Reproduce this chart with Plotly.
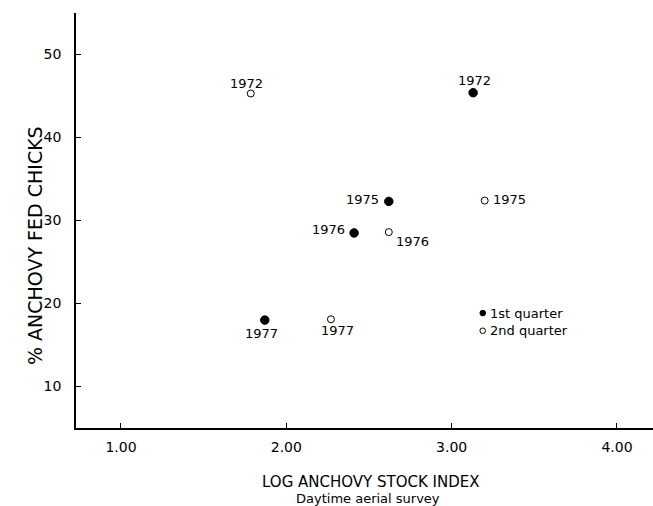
import plotly.graph_objects as go

# Percentage of chicks fed anchovy vs. log anchovy stock index
q1_years = ["1972", "1975", "1976", "1977"]
q1_x = [3.13, 2.62, 2.41, 1.87]
q1_y = [45.4, 32.3, 28.5, 18.0]

q2_years = ["1972", "1975", "1976", "1977"]
q2_x = [1.785, 3.20, 2.62, 2.27]
q2_y = [45.3, 32.4, 28.6, 18.1]

x_tickvals = [1, 2, 3, 4]
x_ticktext = ["1.00", "2.00", "3.00", "4.00"]
y_tickvals = [10, 20, 30, 40, 50]
y_ticktext = ["10", "20", "30", "40", "50"]

FONT = "DejaVu Sans"
INK = "black"

# label placement per point: (xshift, yshift, xanchor)
q1_label_pos = [(1, 12, "center"), (-8, 2, "right"), (-7, 3, "right"), (-3, -13, "center")]
q2_label_pos = [(-4, 10, "center"), (6, 1, "left"), (5, -9, "left"), (7, -11, "center")]

W, H = 653, 506
ML, MR, MT, MB = 76, 0, 13, 78
pw, ph = W - ML - MR, H - MT - MB

fig = go.Figure()

fig.add_trace(go.Scatter(
    x=q1_x, y=q1_y, mode="markers", name="1st quarter",
    marker=dict(symbol="circle", size=8.5, color=INK, line=dict(color=INK, width=1)),
    showlegend=False, hoverinfo="skip",
))
fig.add_trace(go.Scatter(
    x=q2_x, y=q2_y, mode="markers", name="2nd quarter",
    marker=dict(symbol="circle-open", size=7, color=INK, line=dict(color=INK, width=1)),
    showlegend=False, hoverinfo="skip",
))

annotations = []
for xs, ys, yrs, pos in ((q1_x, q1_y, q1_years, q1_label_pos), (q2_x, q2_y, q2_years, q2_label_pos)):
    for xv, yv, yr, (dx, dy, anchor) in zip(xs, ys, yrs, pos):
        annotations.append(dict(
            x=xv, y=yv, xref="x", yref="y", text=yr, showarrow=False,
            xshift=dx, yshift=dy, xanchor=anchor, yanchor="middle",
            font=dict(family=FONT, size=13, color=INK),
        ))

# legend drawn as keys + text inside the plot area
legend_items = [("1st quarter", True, 0.2769), ("2nd quarter", False, 0.2343)]
key_x = 0.7049
shapes = []
for label, filled, ky in legend_items:
    r_px = 2.8
    rx = r_px / pw
    ry = r_px / ph
    shapes.append(dict(
        type="circle", xref="paper", yref="paper",
        x0=key_x - rx, x1=key_x + rx, y0=ky - ry, y1=ky + ry,
        line=dict(color=INK, width=1), fillcolor=INK if filled else "white",
    ))
    annotations.append(dict(
        x=key_x, y=ky, xref="paper", yref="paper", text=label, showarrow=False,
        xshift=5, xanchor="left", yanchor="middle",
        font=dict(family=FONT, size=13, color=INK),
    ))

# axis titles
annotations.append(dict(
    x=(22 - ML) / pw, y=(H - MB - 246) / ph, xref="paper", yref="paper",
    text="% ANCHOVY FED CHICKS", showarrow=False,
    textangle=-90, font=dict(family=FONT, size=19, color=INK),
))
annotations.append(dict(
    x=0.5, y=0, xref="paper", yref="paper", text="LOG ANCHOVY STOCK INDEX", showarrow=False,
    yshift=-54, yanchor="middle", xshift=6,
    font=dict(family=FONT, size=15, color=INK),
))
annotations.append(dict(
    x=0.5, y=0, xref="paper", yref="paper", text="Daytime aerial survey", showarrow=False,
    yshift=-70, yanchor="middle", xshift=3,
    font=dict(family=FONT, size=13, color=INK),
))

fig.update_layout(
    width=W, height=H,
    margin=dict(l=ML, r=MR, t=MT, b=MB, pad=0),
    paper_bgcolor="white", plot_bgcolor="white",
    font=dict(family=FONT, color=INK),
    shapes=shapes, annotations=annotations,
    showlegend=False,
)
fig.update_xaxes(
    range=[0.728, 4.218], tickvals=x_tickvals, ticktext=x_ticktext,
    ticks="inside", ticklen=5, tickwidth=1.2, tickcolor=INK,
    showline=True, linecolor=INK, linewidth=1.5, showgrid=False, zeroline=False,
    tickfont=dict(family=FONT, size=14, color=INK), ticklabelstandoff=5,
)
fig.update_yaxes(
    range=[5, 55], tickvals=y_tickvals, ticktext=y_ticktext,
    ticks="inside", ticklen=5, tickwidth=1.2, tickcolor=INK,
    showline=True, linecolor=INK, linewidth=1.5, showgrid=False, zeroline=False,
    tickfont=dict(family=FONT, size=14, color=INK), ticklabelstandoff=10,
)

fig.write_html("out.html")
